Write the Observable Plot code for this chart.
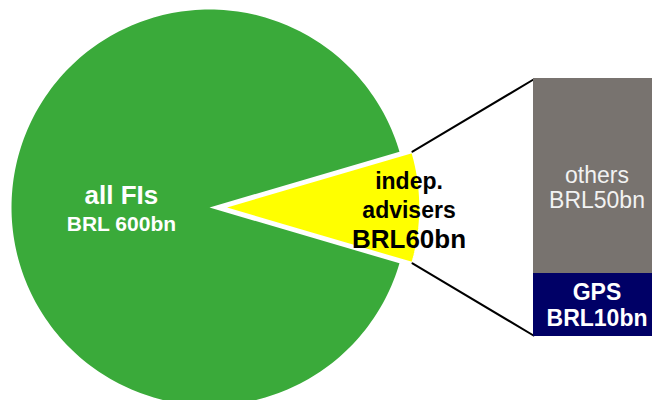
<!DOCTYPE html>
<html><head><meta charset="utf-8">
<script src="https://cdn.jsdelivr.net/npm/d3@7"></script>
<script src="https://cdn.jsdelivr.net/npm/@observablehq/plot@0.6"></script>
<style>
body{margin:0;background:#fff;}
#chart{position:relative;width:652px;height:400px;overflow:hidden;}
#chart svg{position:absolute;left:0;top:0;}
</style></head><body><div id="chart"></div>
<script>
// ---- data ----
const slices = ["all FIs", "indep. advisers"];
const sliceValues = [600, 60];
const sliceColors = ["#3AAA3A", "#FFFF00"];
const sliceLabelLines = [["all FIs", "BRL 600bn"], ["indep.", "advisers", "BRL60bn"]];
const segments = ["GPS", "others"];
const segmentValues = [10, 50];
const segmentLabels = ["GPS\nBRL10bn", "others\nBRL50bn"];
const segmentColors = ["#000066", "#78736F"];

// ---- layout ----
const W = 652, H = 400;
const CX = 209, CY = 207, R = 198;           // pie centre & radius (px)
const explode = 13 / R;                       // yellow slice offset (units)
const barRange = [533, 660];
const barPx = [336, 78];                      // bar bottom/top (px)
const font = "'Liberation Sans', Arial, Helvetica, sans-serif";

// ---- pie geometry (units of radius, y up) ----
const total = d3.sum(sliceValues);
const theta = 2 * Math.PI * sliceValues[1] / total;
function arcPoly(name, cx, a0, a1, n) {
  const pts = [{slice: name, x: cx, y: 0}];
  for (let i = 0; i <= n; i++) {
    const a = a0 + (a1 - a0) * i / n;
    pts.push({slice: name, x: cx + Math.cos(a), y: Math.sin(a)});
  }
  pts.push({slice: name, x: cx, y: 0});
  return pts;
}
const greenPoly = arcPoly(slices[0], 0, theta / 2, 2 * Math.PI - theta / 2, 240);
const yellowPoly = arcPoly(slices[1], explode, -theta / 2, theta / 2, 60);

// connectors: yellow arc ends -> bar left corners
const barLeftU = (barRange[0] - CX) / R;
const connectors = [
  {id: "top", x: explode + Math.cos(theta / 2), y: Math.sin(theta / 2)},
  {id: "top", x: barLeftU, y: (CY - 79) / R},
  {id: "bot", x: explode + Math.cos(theta / 2), y: -Math.sin(theta / 2)},
  {id: "bot", x: barLeftU, y: (CY - 335) / R}
];

// labels
const labelAnchors = [
  {x: Math.cos(Math.PI) * 0.445, y: 0},
  {x: explode + 0.942, y: 0}
];
const lineOffsets = [[-4, 23], [-19, 10, 40]];
const lineSizes = [[26, 21], [23, 23, 26]];
const pieLabels = [];
sliceLabelLines.forEach((lines, i) => lines.forEach((t, j) => pieLabels.push({
  slice: slices[i], text: t,
  x: labelAnchors[i].x, y: labelAnchors[i].y - lineOffsets[i][j] / R,
  fs: lineSizes[i][j]
})));

const piePlot = Plot.plot({
  width: W, height: H, margin: 0,
  style: {fontFamily: font, background: "transparent"},
  x: {domain: [-CX / R, (W - CX) / R], axis: null},
  y: {domain: [(CY - H) / R, CY / R], axis: null},
  marks: [
    Plot.line(greenPoly, {x: "x", y: "y", fill: sliceColors[0], stroke: "none"}),
    Plot.line(yellowPoly, {x: "x", y: "y", fill: sliceColors[1], stroke: "white", strokeWidth: 2.5, strokeLinejoin: "miter"}),
    Plot.line(connectors, {x: "x", y: "y", z: "id", stroke: "black", strokeWidth: 2}),
    Plot.text(pieLabels.filter(d => d.slice === slices[0]), {x: "x", y: "y", text: "text", fontSize: d => d.fs, fontWeight: "bold", fill: "white", textAnchor: "middle", lineAnchor: "bottom"}),
    Plot.text(pieLabels.filter(d => d.slice === slices[1]), {x: "x", y: "y", text: "text", fontSize: d => d.fs, fontWeight: "bold", fill: "black", textAnchor: "middle", lineAnchor: "bottom"})
  ]
});

// ---- bar ----
const ends = d3.cumsum(segmentValues);
const barRows = segments.map((s, i) => ({
  group: slices[1], segment: s, value: segmentValues[i],
  label: segmentLabels[i], mid: ends[i] - segmentValues[i] / 2
}));
const barPlot = Plot.plot({
  width: W, height: H, margin: 0,
  style: {fontFamily: font, background: "transparent"},
  x: {type: "band", domain: [slices[1]], range: barRange, padding: 0, axis: null},
  y: {type: "linear", domain: [0, segmentValues[0], d3.sum(segmentValues)], range: [barPx[0], 273, barPx[1]], axis: null},
  color: {domain: segments, range: segmentColors},
  marks: [
    Plot.barY(barRows, {x: "group", y: "value", fill: "segment", inset: 0}),
    Plot.text(barRows.filter(d => d.segment === "others"), {x: "group", y: "mid", text: "label", fill: "#F2F2F2", fontSize: 23, lineHeight: 1.1, lineAnchor: "middle", dy: 11.5}),
    Plot.text(barRows.filter(d => d.segment === "GPS"), {x: "group", y: "mid", text: "label", fill: "white", fontWeight: "bold", fontSize: 23, lineHeight: 1.1, lineAnchor: "middle"})
  ]
});

const chart = document.getElementById("chart");
chart.appendChild(piePlot);
chart.appendChild(barPlot);
</script>
</body></html>
